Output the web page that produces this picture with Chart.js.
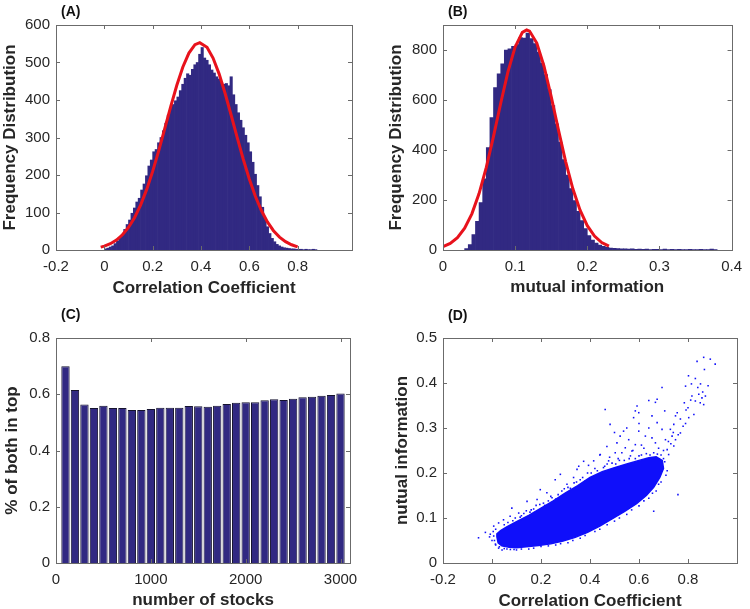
<!DOCTYPE html>
<html lang="en">
<head>
<meta charset="UTF-8">
<title>Correlation coefficient and mutual information</title>
<script src="https://cdn.jsdelivr.net/npm/chart.js"></script>
<style>
  body { margin: 0; background: #fff; }
  canvas { position: absolute; }
</style>
</head>
<body>
<canvas id="chartA" width="375" height="300" style="left:0;top:0"></canvas>
<canvas id="chartB" width="375" height="300" style="left:375px;top:0"></canvas>
<canvas id="chartC" width="375" height="309" style="left:0;top:300px"></canvas>
<canvas id="chartD" width="375" height="309" style="left:375px;top:300px"></canvas>
<script>
// (A) histogram of correlation coefficients, bin centres and counts
const corrBins = [0.005, 0.015, 0.025, 0.035, 0.045, 0.055, 0.065, 0.075, 0.085, 0.095,
  0.105, 0.115, 0.125, 0.135, 0.145, 0.155, 0.165, 0.175, 0.185, 0.195,
  0.205, 0.215, 0.225, 0.235, 0.245, 0.255, 0.265, 0.275, 0.285, 0.295,
  0.305, 0.315, 0.325, 0.335, 0.345, 0.355, 0.365, 0.375, 0.385, 0.395,
  0.405, 0.415, 0.425, 0.435, 0.445, 0.455, 0.465, 0.475, 0.485, 0.495,
  0.505, 0.515, 0.525, 0.535, 0.545, 0.555, 0.565, 0.575, 0.585, 0.595,
  0.605, 0.615, 0.625, 0.635, 0.645, 0.655, 0.665, 0.675, 0.685, 0.695,
  0.705, 0.715, 0.725, 0.735, 0.745, 0.755, 0.765, 0.775, 0.785, 0.795,
  0.805, 0.815, 0.825, 0.835, 0.845, 0.855, 0.865, 0.875]
const corrCounts = [3, 5, 8, 11, 17, 24, 32, 42, 55, 68,
  80, 98, 112, 128, 138, 160, 176, 198, 224, 240,
  262, 268, 286, 300, 318, 338, 360, 380, 388, 398,
  408, 425, 442, 458, 470, 466, 482, 494, 500, 522,
  540, 512, 506, 494, 480, 472, 462, 456, 448, 442,
  444, 438, 462, 414, 388, 366, 346, 326, 306, 286,
  262, 234, 202, 172, 142, 114, 84, 62, 44, 31,
  22, 15, 11, 8, 6, 5, 4, 3, 3, 2,
  2, 2, 1, 2, 1, 1, 2, 1]
// (A) fitted normal curve
const corrFitX = [-0.015, 0, 0.025, 0.05, 0.075, 0.1, 0.125, 0.15, 0.175, 0.2, 0.225, 0.25, 0.275, 0.3,
  0.325, 0.35, 0.375, 0.395, 0.425, 0.45, 0.475, 0.5, 0.525, 0.55, 0.575, 0.6, 0.625, 0.65,
  0.675, 0.7, 0.725, 0.75, 0.775, 0.8]
const corrFitY = [7.6, 10.3, 16.8, 26.5, 40.6, 60.1, 86.1, 119.6, 160.9, 209.6, 264.5, 323.5, 383.1, 439.2,
  488, 525.1, 547.4, 553, 540.4, 511.9, 469.7, 417.4, 359.3, 299.6, 242, 189.3, 143.4, 105.2,
  74.8, 51.5, 34.4, 22.2, 13.9, 8.4]

// (B) histogram of mutual information
const miBins = [0.0325, 0.0375, 0.0425, 0.0475, 0.0525, 0.0575, 0.0625, 0.0675, 0.0725, 0.0775,
  0.0825, 0.0875, 0.0925, 0.0975, 0.1025, 0.1075, 0.1125, 0.1175, 0.1225, 0.1275,
  0.1325, 0.1375, 0.1425, 0.1475, 0.1525, 0.1575, 0.1625, 0.1675, 0.1725, 0.1775,
  0.1825, 0.1875, 0.1925, 0.1975, 0.2025, 0.2075, 0.2125, 0.2175, 0.2225, 0.2275,
  0.2325, 0.2375, 0.2425, 0.2475, 0.2525, 0.2575, 0.2625, 0.2675, 0.2725, 0.2775,
  0.2825, 0.2875, 0.2925, 0.2975, 0.3025, 0.3075, 0.3125, 0.3175, 0.3225, 0.3275,
  0.3325, 0.3375, 0.3425, 0.3475, 0.3525, 0.3575, 0.3625, 0.3675, 0.3725, 0.3775]
const miCounts = [6, 22, 62, 115, 190, 285, 410, 530, 650, 705,
  745, 800, 805, 815, 822, 850, 848, 868, 846, 826,
  792, 748, 702, 642, 578, 505, 432, 362, 300, 246,
  198, 155, 118, 86, 58, 40, 28, 20, 15, 11,
  8, 7, 6, 5, 5, 4, 5, 3, 4, 3,
  4, 2, 3, 3, 2, 4, 2, 3, 2, 3,
  2, 2, 3, 2, 2, 3, 2, 2, 4, 2]
const miFitX = [0, 0.01, 0.02, 0.03, 0.04, 0.05, 0.06, 0.07, 0.08, 0.09, 0.1, 0.11, 0.116,
  0.12, 0.13, 0.14, 0.15, 0.16, 0.17, 0.18, 0.19, 0.2, 0.21, 0.22, 0.23]
const miFitY = [13.1, 26.3, 49.4, 87.3, 144.7, 225.6, 330.3, 454.3, 587, 712.5, 812.3, 870.2, 880,
  875.6, 827.7, 735.1, 613.3, 480.6, 353.8, 244.6, 159, 97.1, 55.6, 29.9, 15.2]

// (C) share of pairs in the top of both rankings
const stockCounts = [100, 200, 300, 400, 500, 600, 700, 800, 900, 1000,
  1100, 1200, 1300, 1400, 1500, 1600, 1700, 1800, 1900, 2000,
  2100, 2200, 2300, 2400, 2500, 2600, 2700, 2800, 2900, 3000]
const bothInTop = [0.700, 0.615, 0.564, 0.551, 0.559, 0.551, 0.551, 0.544, 0.544, 0.548,
  0.552, 0.552, 0.552, 0.558, 0.557, 0.556, 0.559, 0.565, 0.570, 0.572,
  0.572, 0.579, 0.582, 0.580, 0.584, 0.589, 0.591, 0.595, 0.597, 0.603]

// (D) dense core of the scatter (outline) and the single dots around it
const cloudOutline = [[0.02, 0.058], [0.025, 0.045], [0.04, 0.038], [0.07, 0.035], [0.10, 0.034],
  [0.14, 0.036], [0.19, 0.039], [0.24, 0.043], [0.29, 0.049], [0.34, 0.057], [0.39, 0.068],
  [0.44, 0.082], [0.49, 0.098], [0.54, 0.114], [0.59, 0.132], [0.63, 0.150], [0.66, 0.168],
  [0.685, 0.19], [0.70, 0.21], [0.695, 0.228], [0.67, 0.236], [0.64, 0.234], [0.60, 0.228],
  [0.55, 0.22], [0.50, 0.212], [0.45, 0.203], [0.40, 0.19], [0.35, 0.172], [0.30, 0.156],
  [0.25, 0.138], [0.20, 0.122], [0.15, 0.106], [0.10, 0.092], [0.06, 0.080], [0.035, 0.072],
  [0.02, 0.065], [0.02, 0.058]]
const scatterDots = [[-0.055, 0.056], [-0.027, 0.068], [-0.007, 0.064], [0.007, 0.060], [0.01, 0.05],
  [0.014, 0.042], [0.027, 0.033], [0.041, 0.029], [0.061, 0.031], [0.09, 0.03], [0.12, 0.031],
  [0.007, 0.082], [0.027, 0.089], [0.047, 0.096], [0.074, 0.104], [0.081, 0.122], [0.109, 0.111],
  [0.143, 0.137], [0.184, 0.141], [0.197, 0.163], [0.224, 0.156], [0.258, 0.185], [0.279, 0.197],
  [0.306, 0.175], [0.333, 0.19], [0.347, 0.208], [0.374, 0.226], [0.354, 0.215],
  [0.12, 0.105], [0.16, 0.118], [0.21, 0.133], [0.24, 0.148], [0.27, 0.152], [0.31, 0.168],
  [0.36, 0.185], [0.39, 0.2], [0.42, 0.21], [0.46, 0.215], [0.49, 0.222], [0.52, 0.228],
  [0.56, 0.232], [0.60, 0.238], [0.63, 0.243], [0.66, 0.245], [0.69, 0.24], [0.705, 0.225],
  [0.715, 0.205], [0.48, 0.235], [0.53, 0.245], [0.575, 0.25], [0.62, 0.255], [0.44, 0.24],
  [0.415, 0.227], [0.394, 0.217], [0.476, 0.227],
  [0.05, 0.085], [0.065, 0.09], [0.085, 0.094], [0.095, 0.1], [0.115, 0.102], [0.13, 0.11],
  [0.14, 0.116], [0.155, 0.113], [0.17, 0.12], [0.18, 0.128], [0.195, 0.13], [0.215, 0.128],
  [0.23, 0.138], [0.245, 0.145], [0.26, 0.142], [0.285, 0.16], [0.295, 0.165], [0.32, 0.166],
  [0.335, 0.178], [0.345, 0.18], [0.37, 0.19], [0.38, 0.182], [0.405, 0.2], [0.43, 0.205],
  [0.455, 0.212], [0.47, 0.22], [0.505, 0.22], [0.515, 0.232], [0.54, 0.228], [0.565, 0.238],
  [0.585, 0.232], [0.61, 0.24], [0.645, 0.24], [0.675, 0.242], [0.70, 0.232],
  [0.03, 0.036], [0.05, 0.032], [0.075, 0.03], [0.1, 0.029], [0.15, 0.031], [0.17, 0.033],
  [0.23, 0.038], [0.28, 0.043], [0.33, 0.05], [0.38, 0.061], [0.44, 0.075], [0.5, 0.093],
  [0.55, 0.108], [0.6, 0.127], [0.64, 0.144], [0.67, 0.16], [0.69, 0.18], [0.71, 0.195],
  [0.0, 0.05], [0.005, 0.07], [0.015, 0.075], [-0.01, 0.058], [0.015, 0.04],
  [0.2, 0.037], [0.26, 0.04], [0.31, 0.045], [0.36, 0.055], [0.42, 0.07], [0.47, 0.085],
  [0.52, 0.1], [0.57, 0.118], [0.62, 0.138], [0.655, 0.155], [0.68, 0.175], [0.66, 0.115],
  [0.759, 0.152],
  [0.864, 0.457], [0.891, 0.453], [0.837, 0.448], [0.911, 0.442], [0.867, 0.43], [0.802, 0.416],
  [0.83, 0.41], [0.814, 0.398], [0.79, 0.393], [0.851, 0.398], [0.882, 0.394], [0.694, 0.39],
  [0.816, 0.371], [0.811, 0.362], [0.844, 0.375], [0.857, 0.367], [0.871, 0.371], [0.85, 0.356],
  [0.864, 0.352], [0.462, 0.341], [0.592, 0.349], [0.585, 0.338], [0.599, 0.334], [0.674, 0.364],
  [0.667, 0.357], [0.64, 0.361], [0.705, 0.338], [0.785, 0.356], [0.792, 0.34], [0.756, 0.334],
  [0.749, 0.327], [0.769, 0.32], [0.742, 0.308], [0.728, 0.297], [0.803, 0.323], [0.824, 0.33],
  [0.482, 0.308], [0.578, 0.323], [0.653, 0.327], [0.674, 0.312], [0.694, 0.297], [0.735, 0.282],
  [0.708, 0.274], [0.537, 0.293], [0.523, 0.282], [0.599, 0.293], [0.626, 0.282], [0.653, 0.278],
  [0.667, 0.267], [0.51, 0.267], [0.558, 0.274], [0.585, 0.263], [0.469, 0.259], [0.544, 0.256],
  [0.442, 0.241], [0.503, 0.245], [0.571, 0.249], [0.715, 0.252], [0.721, 0.241], [0.749, 0.274],
  [0.742, 0.26], [0.769, 0.289], [0.78, 0.304], [0.73, 0.265], [0.76, 0.285], [0.72, 0.27],
  [0.74, 0.29], [0.68, 0.255], [0.7, 0.25], [0.61, 0.262], [0.64, 0.3], [0.55, 0.3],
  [0.6, 0.31], [0.5, 0.29], [0.79, 0.31], [0.8, 0.345], [0.83, 0.36], [0.86, 0.38], [0.84, 0.39]]

// tick labels
const corrTicks = [-0.2, 0, 0.2, 0.4, 0.6, 0.8]
const freqTicksA = [0, 100, 200, 300, 400, 500, 600]
const miTicks = [0, 0.1, 0.2, 0.3, 0.4]
const freqTicksB = [0, 200, 400, 600, 800]
const stockTicks = [0, 1000, 2000, 3000]
const shareTicks = [0, 0.2, 0.4, 0.6, 0.8]
const miTicksD = [0, 0.1, 0.2, 0.3, 0.4, 0.5]

const FONT = '"Liberation Sans", Arial, Helvetica, sans-serif'
const TEXT = '#262626'
const NAVY = 'rgb(49, 41, 130)'
const RED = '#e8121c'
const BLUE = 'rgb(15, 15, 250)'

const pairs = (xs, ys) => xs.map((x, i) => ({ x: x, y: ys[i] }))
const points = list => list.map(p => ({ x: p[0], y: p[1] }))

// box with inward ticks on all four sides, plus the panel letter
const frame = {
  id: 'frame',
  afterDatasetsDraw(chart) {
    const { ctx, chartArea: a } = chart
    const sx = chart.scales.x, sy = chart.scales.y
    ctx.save()
    ctx.strokeStyle = '#6b6b6b'
    ctx.lineWidth = 1
    ctx.beginPath()
    sx.ticks.forEach(t => {
      const p = Math.round(sx.getPixelForValue(t.value)) + 0.5
      ctx.moveTo(p, a.bottom); ctx.lineTo(p, a.bottom - 4)
      ctx.moveTo(p, a.top); ctx.lineTo(p, a.top + 4)
    })
    sy.ticks.forEach(t => {
      const p = Math.round(sy.getPixelForValue(t.value)) + 0.5
      ctx.moveTo(a.left, p); ctx.lineTo(a.left + 4, p)
      ctx.moveTo(a.right, p); ctx.lineTo(a.right - 4, p)
    })
    ctx.stroke()
    ctx.strokeRect(Math.round(a.left) + 0.5, Math.round(a.top) + 0.5,
      Math.round(a.right - a.left), Math.round(a.bottom - a.top))
    ctx.restore()
  },
  afterDraw(chart, args, opts) {
    const ctx = chart.ctx
    ctx.save()
    ctx.font = 'bold 14px ' + FONT
    ctx.fillStyle = '#111'
    ctx.textBaseline = 'middle'
    ctx.fillText(opts.label, opts.x, opts.y)
    ctx.restore()
  }
}

function xAxis(min, max, ticks, title, height, titlePad) {
  return {
    type: 'linear', min: min, max: max, offset: false,
    grid: { display: false, drawTicks: false },
    border: { display: false },
    afterBuildTicks: s => { s.ticks = ticks.map(v => ({ value: v })) },
    afterFit: s => { s.height = height },
    ticks: { color: TEXT, font: { family: FONT, size: 15 }, padding: 8, maxRotation: 0, autoSkip: false, callback: v => String(v) },
    title: { display: true, text: title, color: TEXT, font: { family: FONT, size: 17, weight: 'bold' }, padding: { top: 0, bottom: titlePad } }
  }
}

function yAxis(min, max, ticks, title, width, titlePad) {
  return {
    type: 'linear', min: min, max: max,
    grid: { display: false, drawTicks: false },
    border: { display: false },
    afterBuildTicks: s => { s.ticks = ticks.map(v => ({ value: v })) },
    afterFit: s => { s.width = width },
    ticks: { color: TEXT, font: { family: FONT, size: 15 }, padding: 6, autoSkip: false, callback: v => String(v) },
    title: { display: true, text: title, color: TEXT, font: { family: FONT, size: 17, weight: 'bold' }, padding: { top: titlePad, bottom: 0 } }
  }
}

function baseOptions(padding, x, y, label) {
  return {
    responsive: false,
    animation: false,
    events: [],
    layout: { padding: padding },
    scales: { x: x, y: y },
    plugins: { legend: { display: false }, tooltip: { enabled: false }, frame: label }
  }
}

new Chart(document.getElementById('chartA'), {
  type: 'bar',
  data: {
    datasets: [
      { type: 'line', data: pairs(corrFitX, corrFitY), borderColor: RED, borderWidth: 3, pointRadius: 0, order: 0 },
      { type: 'bar', data: pairs(corrBins, corrCounts), backgroundColor: NAVY, borderWidth: 0, barPercentage: 1, categoryPercentage: 1, order: 1 }
    ]
  },
  options: baseOptions({ left: 0, top: 25, right: 23, bottom: 0 },
    xAxis(-0.2, 1.025, corrTicks, 'Correlation Coefficient', 50, 1),
    yAxis(0, 600, freqTicksA, 'Frequency Distribution', 56, 0),
    { label: '(A)', x: 61, y: 12 }),
  plugins: [frame]
})

new Chart(document.getElementById('chartB'), {
  type: 'bar',
  data: {
    datasets: [
      { type: 'line', data: pairs(miFitX, miFitY), borderColor: RED, borderWidth: 3, pointRadius: 0, order: 0 },
      { type: 'bar', data: pairs(miBins, miCounts), backgroundColor: NAVY, borderWidth: 0, barPercentage: 1, categoryPercentage: 1, order: 1 }
    ]
  },
  options: baseOptions({ left: 0, top: 25, right: 13, bottom: 0 },
    xAxis(0, 0.4, miTicks, 'mutual information', 50, 2),
    yAxis(0, 900, freqTicksB, 'Frequency Distribution', 68, 11),
    { label: '(B)', x: 73, y: 12 }),
  plugins: [frame]
})

new Chart(document.getElementById('chartC'), {
  type: 'bar',
  data: {
    datasets: [
      { data: pairs(stockCounts, bothInTop), backgroundColor: NAVY, borderColor: '#15132e', borderWidth: 1, barPercentage: 0.88, categoryPercentage: 1 }
    ]
  },
  options: baseOptions({ left: 0, top: 38, right: 25, bottom: 0 },
    xAxis(0, 3100, stockTicks, 'number of stocks', 46, -2),
    yAxis(0, 0.8, shareTicks, '% of both in top', 56, 2),
    { label: '(C)', x: 61, y: 15 }),
  plugins: [frame]
})

new Chart(document.getElementById('chartD'), {
  type: 'scatter',
  data: {
    datasets: [
      { data: points(cloudOutline), showLine: true, fill: 'shape', borderColor: BLUE, backgroundColor: BLUE, borderWidth: 1.5, pointRadius: 0 },
      { data: points(scatterDots), backgroundColor: BLUE, borderWidth: 0, pointStyle: 'rect', pointRadius: 1.1 }
    ]
  },
  options: baseOptions({ left: 0, top: 38, right: 13, bottom: 0 },
    xAxis(-0.2, 1, corrTicks, 'Correlation Coefficient', 46, -3),
    yAxis(0, 0.5, miTicksD, 'nutual information', 68, 17),
    { label: '(D)', x: 73, y: 16 }),
  plugins: [frame]
})
</script>
</body>
</html>
